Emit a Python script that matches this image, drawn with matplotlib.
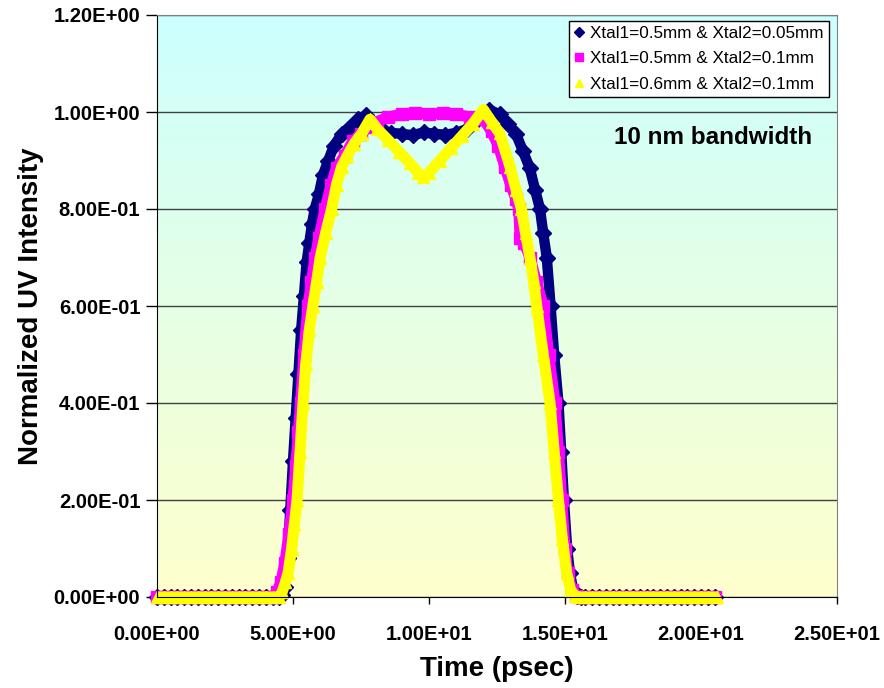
import numpy as np
import matplotlib
matplotlib.use("Agg")
import matplotlib.pyplot as plt
from matplotlib.colors import LinearSegmentedColormap

plt.rcParams['font.family'] = ['Liberation Sans', 'DejaVu Sans']

# Xtal1=0.5mm & Xtal2=0.05mm
t_navy = [0.0, 0.25, 0.5, 0.75, 1.0, 1.25, 1.5, 1.75, 2.0, 2.25, 2.5, 2.75, 3.0, 3.25,
          3.5, 3.75, 4.0, 4.25, 4.5,
          4.6, 4.7, 4.8, 4.9, 5.0, 5.1, 5.2, 5.3, 5.4, 5.5, 5.6, 5.7, 5.8, 5.95, 6.1,
          6.3, 6.5, 6.8, 7.1, 7.4, 7.7, 8.0, 8.3, 8.6, 9.0, 9.4, 9.8, 10.2, 10.6, 11.0,
          11.4, 11.8, 12.2, 12.6, 12.9, 13.2, 13.45, 13.7, 13.9, 14.08, 14.2, 14.33,
          14.47, 14.6, 14.76, 14.86, 14.96, 15.08, 15.18, 15.3, 15.45, 15.6,
          15.75, 16.0, 16.25, 16.5, 16.75, 17.0, 17.25, 17.5, 17.75, 18.0, 18.25,
          18.5, 18.75, 19.0, 19.25, 19.5, 19.75, 20.0, 20.25, 20.5]
i_navy = [0.0, 0.0, 0.0, 0.0, 0.0, 0.0, 0.0, 0.0, 0.0, 0.0, 0.0, 0.0, 0.0, 0.0,
          0.0, 0.0, 0.0, 0.0, 0.0,
          0.005, 0.02, 0.08, 0.18, 0.28, 0.37, 0.46, 0.55, 0.62, 0.69, 0.73, 0.77, 0.80, 0.83, 0.87,
          0.90, 0.93, 0.955, 0.97, 0.985, 0.993, 0.975, 0.962, 0.957, 0.955, 0.952, 0.958, 0.955, 0.953, 0.957,
          0.965, 0.985, 1.005, 0.995, 0.975, 0.955, 0.92, 0.885, 0.84, 0.80, 0.75, 0.70,
          0.60, 0.50, 0.40, 0.30, 0.20, 0.10, 0.05, 0.015, 0.003, 0.0,
          0.0, 0.0, 0.0, 0.0, 0.0, 0.0, 0.0, 0.0, 0.0, 0.0, 0.0,
          0.0, 0.0, 0.0, 0.0, 0.0, 0.0, 0.0, 0.0, 0.0]

# Xtal1=0.5mm & Xtal2=0.1mm
t_mag = [0.0, 0.25, 0.5, 0.75, 1.0, 1.25, 1.5, 1.75, 2.0, 2.25, 2.5, 2.75, 3.0, 3.25,
         3.5, 3.75, 4.0, 4.25,
         4.4, 4.55, 4.7, 4.85, 5.0, 5.1, 5.2, 5.28, 5.4, 5.55, 5.68, 5.81, 5.95, 6.18,
         6.4, 6.6, 6.9, 7.2, 7.5, 7.8, 8.1, 8.5, 9.0, 9.5, 10.0, 10.5, 11.0, 11.5, 12.0,
         12.3, 12.55, 12.79, 13.0, 13.2, 13.3, 13.35, 13.5, 13.71, 13.95, 14.2, 14.4,
         14.63, 14.76, 14.88, 15.0, 15.1, 15.25, 15.4, 15.55,
         15.75, 16.0, 16.25, 16.5, 16.75, 17.0, 17.25, 17.5, 17.75, 18.0, 18.25,
         18.5, 18.75, 19.0, 19.25, 19.5, 19.75, 20.0, 20.25, 20.5]
i_mag = [0.0, 0.0, 0.0, 0.0, 0.0, 0.0, 0.0, 0.0, 0.0, 0.0, 0.0, 0.0, 0.0, 0.0,
         0.0, 0.0, 0.0, 0.0,
         0.01, 0.03, 0.07, 0.13, 0.20, 0.27, 0.34, 0.40, 0.50, 0.60, 0.65, 0.70, 0.74, 0.80,
         0.85, 0.885, 0.91, 0.94, 0.955, 0.97, 0.98, 0.99, 0.995, 0.998, 0.996, 0.997, 0.995, 0.99, 0.985,
         0.96, 0.93, 0.887, 0.85, 0.82, 0.80, 0.74, 0.73, 0.70, 0.65, 0.60, 0.50,
         0.40, 0.30, 0.20, 0.10, 0.05, 0.015, 0.003, 0.0,
         0.0, 0.0, 0.0, 0.0, 0.0, 0.0, 0.0, 0.0, 0.0, 0.0, 0.0,
         0.0, 0.0, 0.0, 0.0, 0.0, 0.0, 0.0, 0.0, 0.0]

# Xtal1=0.6mm & Xtal2=0.1mm
t_yel = [0.0, 0.25, 0.5, 0.75, 1.0, 1.25, 1.5, 1.75, 2.0, 2.25, 2.5, 2.75, 3.0, 3.25,
         3.5, 3.75, 4.0, 4.25, 4.5,
         4.6, 4.72, 4.82, 4.95, 5.05, 5.15, 5.26, 5.37, 5.47, 5.6, 5.73, 5.87, 6.0, 6.2,
         6.42, 6.6, 6.79, 7.0, 7.25, 7.52, 7.83, 8.1, 8.5, 8.9, 9.3, 9.6, 9.78, 10.0,
         10.4, 10.8, 11.2, 11.6, 12.0, 12.3, 12.6, 12.98, 13.2, 13.4, 13.55, 13.71,
         13.85, 13.96, 14.2, 14.45, 14.6, 14.76, 14.9, 15.06, 15.2, 15.35, 15.5,
         15.75, 16.0, 16.25, 16.5, 16.75, 17.0, 17.25, 17.5, 17.75, 18.0, 18.25,
         18.5, 18.75, 19.0, 19.25, 19.5, 19.75, 20.0, 20.25, 20.6]
i_yel = [0.0, 0.0, 0.0, 0.0, 0.0, 0.0, 0.0, 0.0, 0.0, 0.0, 0.0, 0.0, 0.0, 0.0,
         0.0, 0.0, 0.0, 0.0, 0.0,
         0.01, 0.03, 0.05, 0.10, 0.15, 0.20, 0.30, 0.40, 0.48, 0.55, 0.60, 0.65, 0.70, 0.75,
         0.80, 0.85, 0.887, 0.91, 0.935, 0.955, 0.985, 0.965, 0.942, 0.918, 0.894, 0.875, 0.866, 0.875,
         0.90, 0.925, 0.95, 0.975, 1.005, 0.98, 0.956, 0.887, 0.84, 0.80, 0.75, 0.70,
         0.65, 0.60, 0.50, 0.40, 0.30, 0.20, 0.12, 0.05, 0.015, 0.003, 0.0,
         0.0, 0.0, 0.0, 0.0, 0.0, 0.0, 0.0, 0.0, 0.0, 0.0, 0.0,
         0.0, 0.0, 0.0, 0.0, 0.0, 0.0, 0.0, 0.0, 0.0]

labels = ["Xtal1=0.5mm & Xtal2=0.05mm",
          "Xtal1=0.5mm & Xtal2=0.1mm",
          "Xtal1=0.6mm & Xtal2=0.1mm"]
x_ticks = [0, 5, 10, 15, 20, 25]
y_ticks = [0, 0.2, 0.4, 0.6, 0.8, 1.0, 1.2]

fig = plt.figure(figsize=(8.84, 6.88), dpi=100)
ax = fig.add_axes([157 / 884, 91 / 688, 680 / 884, 582 / 688])

# gradient background, cyan at top to pale yellow at bottom
cmap = LinearSegmentedColormap.from_list("bg", ["#FFFFCC", "#CCFFFF"])
grad = np.linspace(0, 1, 256).reshape(-1, 1)
ax.imshow(grad, cmap=cmap, aspect="auto", origin="lower",
          extent=[0, 1, 0, 1], transform=ax.transAxes, zorder=-2)
ax.patch.set_visible(False)

series = [(t_navy, i_navy, "#000080", "D", 8, 7.5),
          (t_mag, i_mag, "#FF00FF", "s", 8, 8),
          (t_yel, i_yel, "#FFFF00", "^", 9, 8)]
for (t, v, c, m, ms, lw), lab in zip(series, labels):
    ax.plot(t, v, color=c, lw=lw, solid_joinstyle="round", solid_capstyle="butt",
            zorder=2, clip_on=False)
    ax.plot(t, v, color=c, marker=m, ms=ms, ls="none", zorder=2, clip_on=False)
    ax.plot([], [], color=c, marker=m, ms=ms * 0.7, ls="none", label=lab)

ax.set_xlim(0, 25)
ax.set_ylim(0, 1.2)
ax.set_xticks(x_ticks)
ax.set_yticks(y_ticks)
ax.set_xticklabels(["%.2E" % v for v in x_ticks], fontsize=14.5, fontweight="bold")
ax.set_yticklabels(["%.2E" % v for v in y_ticks], fontsize=14.5, fontweight="bold")
ax.tick_params(axis="x", direction="out", length=5, width=1, pad=15)
ax.tick_params(axis="y", direction="out", length=8, width=1, pad=4)

ax.yaxis.grid(True, color="#404040", lw=1)
ax.set_axisbelow(True)
for s in ["top", "right"]:
    ax.spines[s].set_color("#808080")
for s in ["left", "bottom"]:
    ax.spines[s].set_color("black")

ax.set_xlabel("Time (psec)", fontsize=20, fontweight="bold", labelpad=9)
ax.set_ylabel("Normalized UV Intensity", fontsize=20, fontweight="bold", labelpad=7)

ax.text(0.963, 0.789, "10 nm bandwidth", transform=ax.transAxes, ha="right", va="center",
        fontsize=17.5, fontweight="bold")

leg = ax.legend(loc="upper right", bbox_to_anchor=(828.7 / 884, 1 - 21 / 688),
                bbox_transform=fig.transFigure, borderaxespad=0, fontsize=12.3,
                frameon=True, fancybox=False, edgecolor="black", framealpha=1,
                handlelength=0.6, handletextpad=0.35, borderpad=0.3, labelspacing=0.6)
leg.get_frame().set_linewidth(1)

fig.savefig("out.png", dpi=100)
